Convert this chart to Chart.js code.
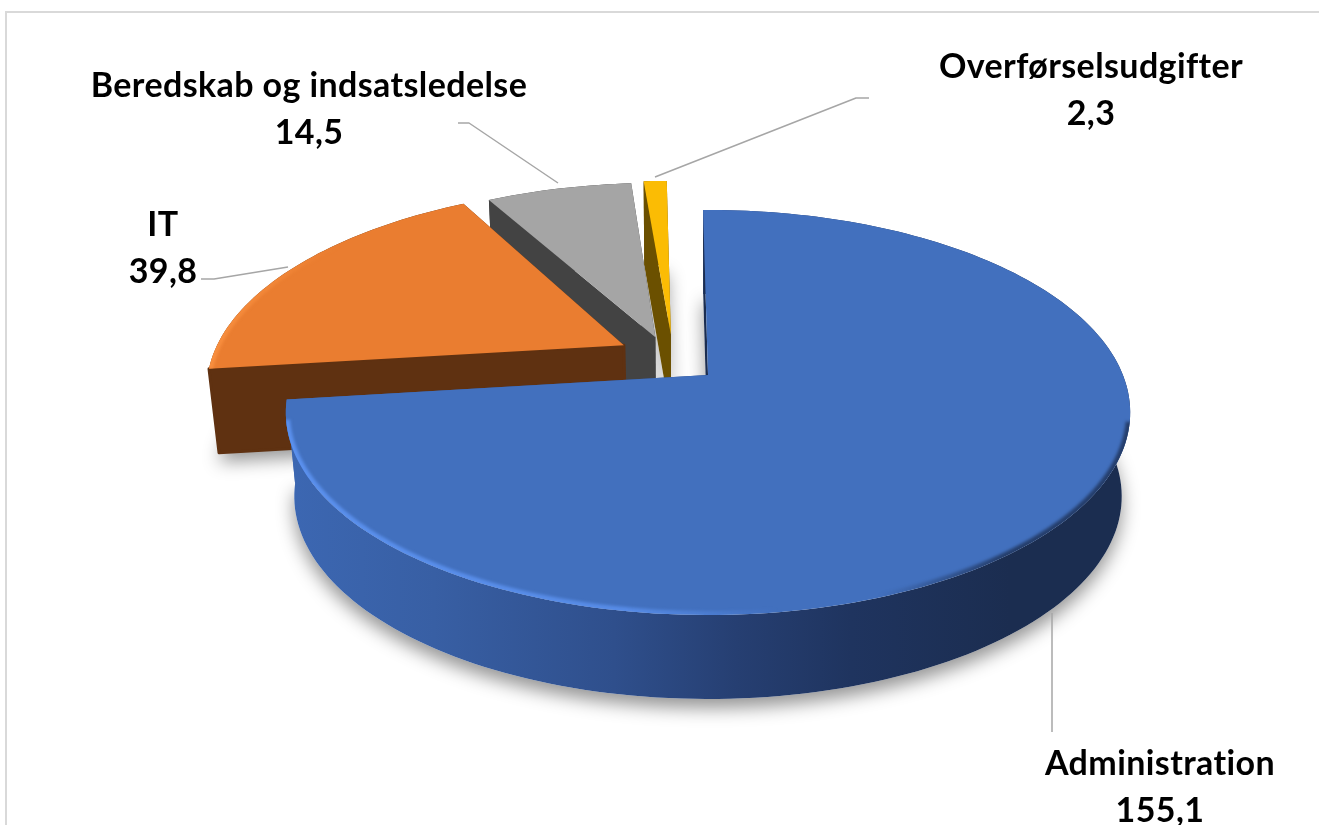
<!DOCTYPE html>
<html lang="da">
<head>
<meta charset="utf-8">
<title>Udgifter</title>
<script src="https://cdn.jsdelivr.net/npm/chart.js@4"></script>
<style>
    html, body { margin: 0; padding: 0; background: #fff; overflow: hidden; }
    canvas { display: block; }
</style>
</head>
<body>
<canvas id="pie" width="1319" height="825"></canvas>
<script>
const categories = ["Administration", "IT", "Beredskab og indsatsledelse", "Overførselsudgifter"];
const values = [155.1, 39.8, 14.5, 2.3];

/*
    ----------> LOOK <----------
*/

const topColors = ["#4270be", "#ea7d30", "#a5a5a5", "#fbbc04"];
const wallColors = ["#1b2d50", "#5f3111", "#434343", "#6b5000"];
const explode = [0, 0.24, 0.21, 0.216];
const nudgeX = [0, 3, -28, -33];
const nudgeY = [0, -9, 0, 0];

const tilt = { kx: 1.383, ky: 0.652, persp: 0.185, depth: 84, bottomScale: 0.98 };

const labelFont = "bold 34px Lato";
const labelAnchors = [[1160, 775], [163, 236], [309, 97], [1091, 78]];
const lineGap = 47;
const leaders = [
    [[1052, 613], [1052, 732]],
    [[288, 267], [214, 279], [201, 279]],
    [[558, 183], [469, 123], [458, 123]],
    [[655, 177], [856, 98], [869, 98]],
];

/*
    ----------> 3D PIE <----------
*/

function project(arc, index, radius, angle, bottom) {
    const mid = (arc.startAngle + arc.endAngle) / 2;
    const u = radius * Math.cos(angle) + explode[index] * Math.cos(mid);
    const v = radius * Math.sin(angle) + explode[index] * Math.sin(mid);
    const w = 1 - tilt.persp * v;
    const scale = bottom ? tilt.bottomScale : 1;

    return [
        arc.x + arc.outerRadius * tilt.kx * u / w * scale + nudgeX[index],
        arc.y + arc.outerRadius * tilt.ky * v / w + nudgeY[index] + (bottom ? tilt.depth : 0),
    ];
}

function arcPoints(arc, index, bottom) {
    const points = [];
    const steps = Math.ceil((arc.endAngle - arc.startAngle) * 40);
    for (let i = 0; i <= steps; i++) {
        const angle = arc.startAngle + (arc.endAngle - arc.startAngle) * i / steps;
        points.push(project(arc, index, 1, angle, bottom));
    }
    return points;
}

function tracePath(ctx, points) {
    ctx.beginPath();
    points.forEach((p, i) => i == 0 ? ctx.moveTo(p[0], p[1]) : ctx.lineTo(p[0], p[1]));
    ctx.closePath();
}

function facePoints(arc, index, bottom) {
    return [project(arc, index, 0, 0, bottom), ...arcPoints(arc, index, bottom)];
}

function drawShadow(ctx, arc, index) {
    ctx.save();
    ctx.shadowColor = "rgba(0, 0, 0, 0.42)";
    ctx.shadowBlur = 18;
    ctx.shadowOffsetY = 9;
    ctx.fillStyle = "#fff";
    tracePath(ctx, facePoints(arc, index, true));
    ctx.fill();
    ctx.restore();
}

function radialFace(arc, index, angle) {
    return [
        project(arc, index, 0, 0, false),
        project(arc, index, 1, angle, false),
        project(arc, index, 1, angle, true),
        project(arc, index, 0, 0, true),
    ];
}

function drawSlice(ctx, arc, index) {
    let wallFill = wallColors[index];

    if (index == 0) {
        wallFill = ctx.createLinearGradient(290, 0, 1010, 0);
        wallFill.addColorStop(0, "#3c67b2");
        wallFill.addColorStop(0.2, "#385fa4");
        wallFill.addColorStop(0.45, "#2f4f8c");
        wallFill.addColorStop(0.62, "#263f72");
        wallFill.addColorStop(0.78, "#1f345f");
        wallFill.addColorStop(1, wallColors[0]);
    }

    // cut faces
    ctx.fillStyle = wallFill;
    tracePath(ctx, radialFace(arc, index, arc.endAngle));
    ctx.fill();

    // outer wall
    const top = arcPoints(arc, index, false);
    const bottom = arcPoints(arc, index, true).reverse();
    tracePath(ctx, [...top, ...bottom]);
    ctx.fill();

    ctx.fillStyle = wallColors[index];
    ctx.strokeStyle = wallColors[index];
    ctx.lineWidth = 3;
    ctx.lineJoin = "round";
    tracePath(ctx, radialFace(arc, index, arc.startAngle));
    ctx.fill();
    if (index == 1) {
        tracePath(ctx, radialFace(arc, index, arc.startAngle));
        ctx.stroke();
    }

    // top face
    ctx.fillStyle = topColors[index];
    tracePath(ctx, facePoints(arc, index, false));
    ctx.fill();

    if (index < 2) {
        drawBevel(ctx, arc, index, top);
    }
}

function drawBevel(ctx, arc, index, top) {
    ctx.save();
    tracePath(ctx, facePoints(arc, index, false));
    ctx.clip();
    ctx.filter = "blur(1.5px)";
    ctx.lineWidth = 8;

    let rim = top;
    if (index == 0) {
        const edge = ctx.createLinearGradient(288, 0, 1132, 0);
        edge.addColorStop(0, "rgba(92, 146, 240, 0.95)");
        edge.addColorStop(0.4, "rgba(92, 146, 240, 0.8)");
        edge.addColorStop(0.58, "rgba(92, 146, 240, 0)");
        edge.addColorStop(0.7, "rgba(27, 45, 80, 0)");
        edge.addColorStop(0.85, "rgba(27, 45, 80, 0.75)");
        edge.addColorStop(1, "rgba(27, 45, 80, 0.75)");
        ctx.strokeStyle = edge;
        // only the near edge carries the rim
        rim = top.filter(p => p[1] > arc.y + 45);
    } else {
        const edge = ctx.createLinearGradient(205, 0, 340, 0);
        edge.addColorStop(0, "rgba(250, 145, 65, 0.9)");
        edge.addColorStop(1, "rgba(250, 145, 65, 0)");
        ctx.strokeStyle = edge;
    }

    ctx.beginPath();
    rim.forEach((p, i) => i == 0 ? ctx.moveTo(p[0], p[1]) : ctx.lineTo(p[0], p[1]));
    ctx.stroke();
    ctx.restore();
}

function drawLabels(ctx) {
    ctx.save();
    ctx.strokeStyle = "#a6a6a6";
    ctx.lineWidth = 1.5;
    leaders.forEach(line => {
        ctx.beginPath();
        line.forEach((p, i) => i == 0 ? ctx.moveTo(p[0], p[1]) : ctx.lineTo(p[0], p[1]));
        ctx.stroke();
    });

    ctx.fillStyle = "#000";
    ctx.font = labelFont;
    ctx.letterSpacing = "0.4px";
    ctx.textAlign = "center";
    ctx.textBaseline = "alphabetic";
    categories.forEach((name, i) => {
        const [x, y] = labelAnchors[i];
        ctx.fillText(name, x, y);
        ctx.fillText(values[i].toFixed(1).replace(".", ","), x, y + lineGap);
    });
    ctx.restore();
}

const pie3d = {
    id: "pie3d",
    beforeDraw(chart) {
        const ctx = chart.ctx;
        ctx.save();
        ctx.strokeStyle = "#d9d9d9";
        ctx.lineWidth = 2;
        ctx.beginPath();
        ctx.moveTo(6, 825);
        ctx.lineTo(6, 12);
        ctx.lineTo(1319, 12);
        ctx.stroke();
        ctx.restore();
    },
    beforeDatasetsDraw(chart) {
        const ctx = chart.ctx;
        const arcs = chart.getDatasetMeta(0).data;
        const order = [3, 2, 1, 0];

        order.forEach(i => drawShadow(ctx, arcs[i], i));
        order.forEach(i => drawSlice(ctx, arcs[i], i));
        drawLabels(ctx);

        return false;
    },
};

new Chart(document.getElementById("pie"), {
    type: "pie",
    data: {
        labels: categories,
        datasets: [{ data: values, backgroundColor: topColors, borderWidth: 0 }],
    },
    options: {
        responsive: false,
        animation: false,
        rotation: -0.8,
        layout: { padding: { left: 408, right: 311, top: 75, bottom: 150 } },
        plugins: { legend: { display: false }, tooltip: { enabled: false } },
    },
    plugins: [pie3d],
});
</script>
</body>
</html>
